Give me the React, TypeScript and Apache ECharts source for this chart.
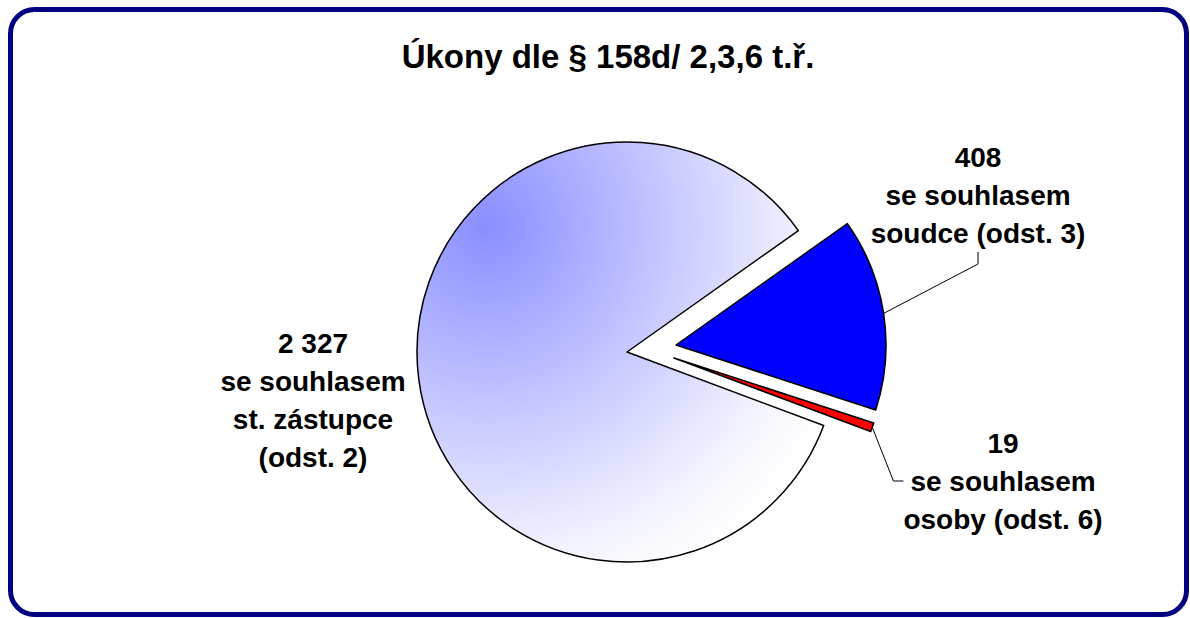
import React, { useEffect, useRef } from 'react';
import * as echarts from 'echarts';

const titleText = 'Úkony dle § 158d/ 2,3,6 t.ř.';
const categories = [
  'se souhlasem\nst. zástupce\n(odst. 2)',
  'se souhlasem\nsoudce (odst. 3)',
  'se souhlasem\nosoby (odst. 6)',
];
const values = [2327, 408, 19];
const valueLabels = ['2 327', '408', '19'];

const FONT = '"Liberation Sans", Arial, Helvetica, sans-serif';
const RADIUS = 210;
// Each slice is drawn by its own pie series so it can be "exploded" like in the original.
const sliceCenters: [number, number][] = [
  [627, 352],
  [676, 345],
  [674, 358],
];
const labelPositions: [number, number][] = [
  [313, 400],
  [978, 195],
  [1003, 481],
];

const bigGradient = {
  type: 'radial',
  x: 0.17,
  y: 0.2,
  r: 0.95,
  colorStops: [
    { offset: 0, color: '#8a8eff' },
    { offset: 0.45, color: '#c4c5ff' },
    { offset: 0.85, color: '#f5f5ff' },
    { offset: 1, color: '#ffffff' },
  ],
};
const sliceColors: any[] = [bigGradient, '#0000ff', '#ff0000'];

function buildSeries(k: number) {
  return {
    type: 'pie',
    center: sliceCenters[k],
    radius: RADIUS,
    startAngle: -20.5,
    clockwise: true,
    avoidLabelOverlap: false,
    minShowLabelAngle: 0,
    silent: true,
    emphasis: { disabled: true },
    label: {
      show: true,
      position: 'outside',
      alignTo: 'none',
      formatter: (p: any) => `${valueLabels[p.dataIndex]}\n${categories[p.dataIndex]}`,
      fontFamily: FONT,
      fontWeight: 'bold',
      fontSize: 28,
      lineHeight: 38,
      color: '#000',
      align: 'center',
    },
    labelLine: {
      show: k !== 0,
      length: 10,
      length2: 10,
      lineStyle: { color: '#000', width: 1 },
    },
    labelLayout: (p: any) => {
      if (p.dataIndex !== k) return {};
      const [lx, ly] = labelPositions[k];
      const w = p.labelRect.width;
      const h = p.labelRect.height;
      const res: any = { x: lx, y: ly, align: 'center', verticalAlign: 'middle' };
      const start = p.labelLinePoints ? p.labelLinePoints[0] : null;
      if (start && k === 1) {
        res.labelLinePoints = [start, [lx, ly + h / 2 + 12], [lx, ly + h / 2]];
      }
      if (start && k === 2) {
        res.labelLinePoints = [start, [lx - w / 2 - 10, ly], [lx - w / 2, ly]];
      }
      return res;
    },
    data: values.map((v, i) => {
      if (i === k) {
        return {
          value: v,
          name: categories[i],
          itemStyle: { color: sliceColors[i], borderColor: '#000', borderWidth: 1.5 },
        };
      }
      return {
        value: v,
        name: categories[i],
        itemStyle: { color: 'rgba(0,0,0,0)', borderWidth: 0 },
        label: { show: false },
        labelLine: { show: false },
      };
    }),
  };
}

export default function App() {
  const ref = useRef<HTMLDivElement>(null);
  useEffect(() => {
    if (!ref.current) return;
    const chart = echarts.init(ref.current, undefined, { renderer: 'svg' });
    chart.setOption({
      animation: false,
      backgroundColor: '#ffffff',
      title: {
        text: titleText,
        left: 603,
        top: 35,
        textAlign: 'center',
        textStyle: { fontFamily: FONT, fontWeight: 'bold', fontSize: 33, color: '#000' },
      },
      graphic: [
        {
          type: 'rect',
          shape: { x: 10.5, y: 9.5, width: 1176, height: 605, r: 24 },
          style: { fill: 'none', stroke: '#000080', lineWidth: 5 },
          silent: true,
          z: 100,
        },
      ],
      series: [buildSeries(0), buildSeries(1), buildSeries(2)],
    });
    return () => chart.dispose();
  }, []);
  return (
    <div
      ref={ref}
      style={{ position: 'absolute', left: 0, top: 0, width: 1190, height: 618 }}
    />
  );
}
